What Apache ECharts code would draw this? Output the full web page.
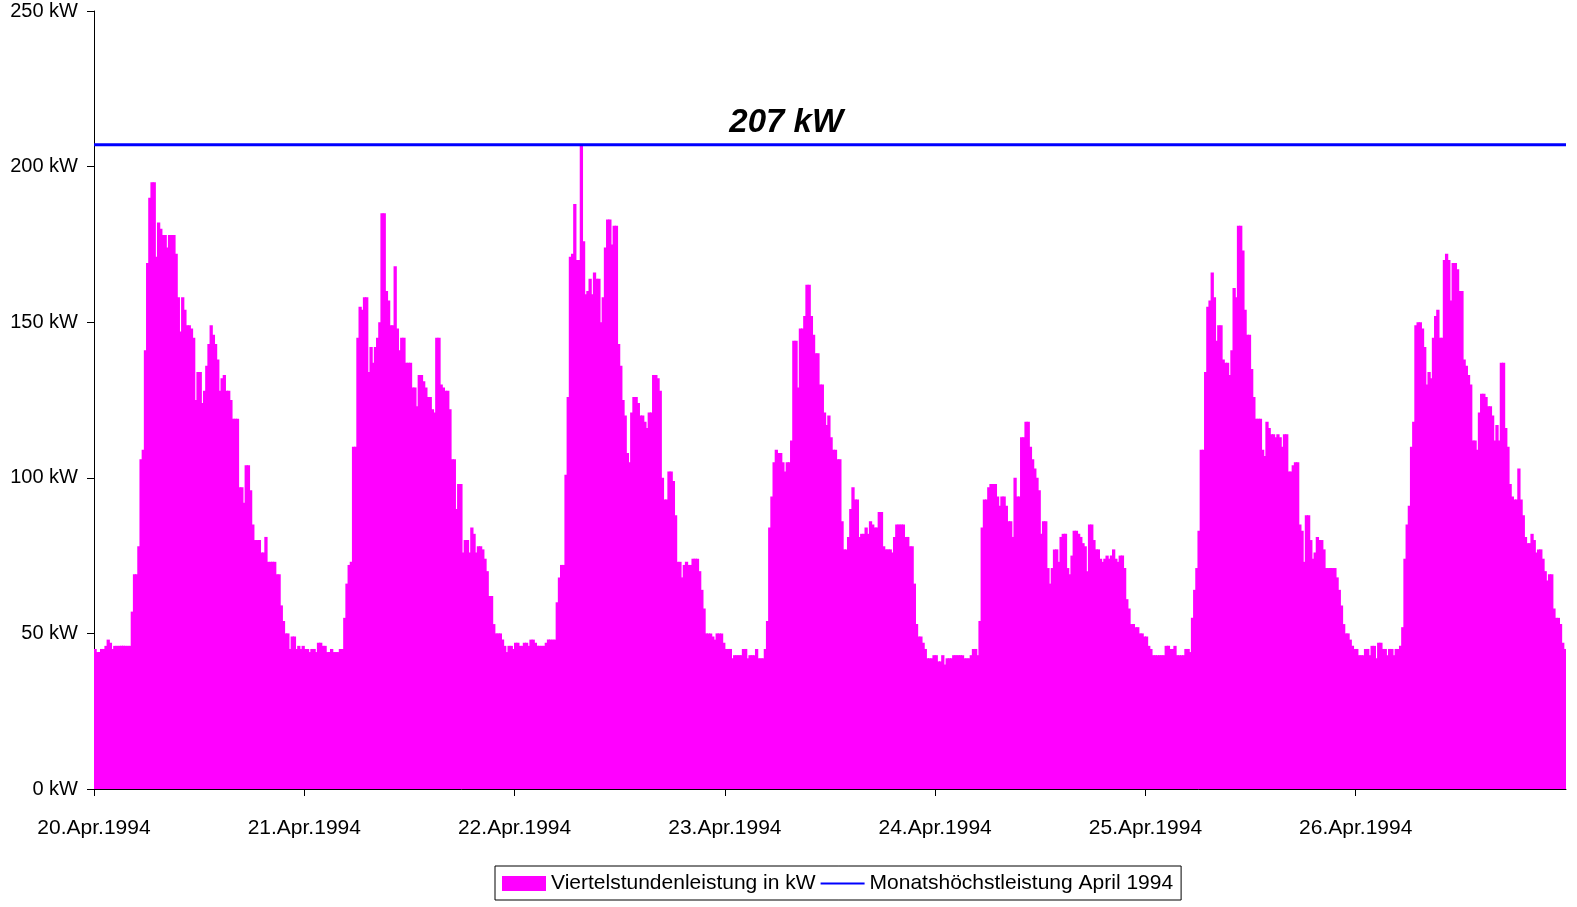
<!DOCTYPE html>
<html>
<head>
<meta charset="utf-8">
<script src="https://cdn.jsdelivr.net/npm/echarts@6/dist/echarts.min.js"></script>
<style>html,body{margin:0;padding:0;background:#fff}#c{width:1577px;height:907px}</style>
</head>
<body>
<div id="c"></div>
<script>
// Day labels (x-axis ticks, one per day boundary)
const dayLabels = ['20.Apr.1994','21.Apr.1994','22.Apr.1994','23.Apr.1994','24.Apr.1994','25.Apr.1994','26.Apr.1994'];
const yTickLabelUnit = ' kW';
const seriesBarName = 'Viertelstundenleistung in kW';
const seriesLineName = 'Monatshöchstleistung April 1994';
const monthMax = 207;
const monthMaxLabel = '207 kW';
const monthMaxLabelAt = 316; // quarter-hour index where the label sits

// Quarter-hour power values (kW), 96 per day
const day20 = [45,44,44,45,45,46,48,47,45,46,46,46,46,46,46,46,
  46,57,69,69,78,106,109,141,169,190,195,195,171,182,180,178,
  178,174,178,178,178,172,158,147,158,154,149,149,148,145,125,134,
  134,124,128,136,143,149,146,143,138,128,132,133,128,128,125,119,
  119,119,97,97,92,104,104,96,85,80,80,80,76,76,81,73,
  73,73,73,69,69,59,54,50,50,45,49,49,45,46,45,46];
const day21 = [45,45,44,45,45,44,47,47,46,46,44,44,45,44,44,44,
  45,45,55,66,72,73,110,110,145,155,154,158,158,134,142,137,
  142,145,150,185,185,160,157,149,149,168,148,141,145,145,137,137,
  137,129,129,123,133,133,131,129,126,126,122,121,145,145,130,129,
  128,128,122,106,106,90,98,98,76,80,80,76,84,82,76,78,
  78,77,74,70,62,62,53,50,50,50,48,46,44,46,46,45];
const day22 = [47,47,46,46,47,47,46,48,48,47,46,46,46,46,47,48,
  48,48,48,60,68,72,72,101,126,171,172,188,170,170,207,176,
  159,160,164,159,166,164,164,150,158,174,183,183,175,181,181,143,
  136,125,120,108,105,121,126,126,124,120,120,118,116,121,121,133,
  133,132,128,100,93,93,102,102,99,88,73,73,68,72,73,72,
  72,74,74,74,70,64,58,50,50,50,49,48,50,50,50,47];
const day23 = [45,45,45,42,43,43,43,43,45,45,42,43,43,43,45,42,
  42,42,45,54,84,94,105,109,108,108,105,102,105,105,112,144,
  144,129,148,148,152,162,162,152,146,140,140,130,130,121,117,120,
  113,109,109,106,106,86,77,77,81,90,97,93,93,81,82,82,
  84,82,86,85,84,84,89,89,78,77,77,77,76,81,85,85,
  85,85,81,81,78,78,66,53,49,49,47,45,42,42,42,43];
const day24 = [43,41,41,43,40,42,42,42,43,43,43,43,43,42,42,42,
  43,45,45,43,54,84,93,93,97,98,98,98,94,91,94,94,
  91,86,86,81,100,94,94,113,113,118,118,110,106,103,100,96,
  82,86,86,71,66,71,77,77,73,81,82,82,71,69,75,83,
  83,82,81,79,78,70,85,85,80,77,77,74,73,74,75,74,
  75,77,74,73,75,75,71,61,58,53,53,52,52,50,50,49];
const day25 = [49,46,45,43,43,43,43,43,43,46,46,45,45,46,43,43,
  43,43,45,45,44,55,64,71,83,109,109,134,155,157,166,158,
  144,149,149,138,137,137,133,141,161,158,181,181,173,154,146,146,
  135,126,119,119,119,109,107,118,116,114,114,113,114,113,110,114,
  114,102,102,104,105,105,85,83,73,88,88,80,74,76,81,80,
  80,77,71,71,71,71,71,68,64,59,53,50,50,48,46,45];
const day26 = [45,43,43,43,45,45,43,46,46,42,47,47,45,45,43,45,
  45,43,45,45,46,52,74,85,91,110,118,149,150,150,148,142,
  130,134,132,145,152,154,145,145,170,172,170,157,169,169,167,160,
  160,138,136,133,130,112,112,109,121,127,127,126,123,123,120,112,
  117,112,137,137,116,110,98,94,93,93,103,93,88,81,79,79,
  82,80,76,77,77,74,70,67,69,69,58,55,55,53,47,45];

const values = [].concat(day20, day21, day22, day23, day24, day25, day26);
const perDay = 96;
const total = values.length;
const slots = values.map((_, i) => i);

const FONT = 'Liberation Sans, Arial, sans-serif';
const chart = echarts.init(document.getElementById('c'));
chart.setOption({
  animation: false,
  backgroundColor: '#fff',
  textStyle: {fontFamily: FONT, color: '#000'},
  grid: {left: 94, right: 11, top: 11, bottom: 118, containLabel: false},
  legend: {
    left: 495, top: 866,
    padding: [7, 8, 6, 7],
    borderColor: '#000', borderWidth: 1,
    itemGap: 4, itemWidth: 44, itemHeight: 15,
    textStyle: {fontFamily: FONT, fontSize: 21, color: '#000'},
    data: [
      {name: seriesBarName, icon: 'rect'},
      {name: seriesLineName, itemStyle: {opacity: 0, color: 'rgba(0,0,0,0)', borderWidth: 0}}
    ]
  },
  xAxis: [{
    type: 'value', min: 0, max: total, interval: perDay,
    axisLine: {show: true, lineStyle: {color: '#000', width: 1}},
    axisTick: {show: true, length: 7, lineStyle: {color: '#000'}},
    splitLine: {show: false},
    axisLabel: {
      margin: 29, fontSize: 21, color: '#000', fontFamily: FONT,
      showMaxLabel: false,
      formatter: v => dayLabels[Math.round(v / perDay)] || ''
    }
  }, {
    type: 'category', data: slots, show: false, boundaryGap: true
  }],
  yAxis: {
    type: 'value', min: 0, max: 250, interval: 50,
    axisLine: {show: true, lineStyle: {color: '#000', width: 1}},
    axisTick: {show: true, length: 7, lineStyle: {color: '#000'}},
    splitLine: {show: false},
    axisLabel: {margin: 16, fontSize: 20, color: '#000', fontFamily: FONT,
      formatter: v => v + yTickLabelUnit}
  },
  series: [{
    name: seriesBarName, type: 'bar', xAxisIndex: 1,
    data: values, barWidth: '150%',
    itemStyle: {color: '#FF00FF'}
  }, {
    name: seriesLineName, type: 'line', xAxisIndex: 0,
    data: [[0, monthMax], [total, monthMax]],
    symbol: 'none', z: 5,
    lineStyle: {color: '#0000FF', width: 3},
    itemStyle: {color: '#0000FF'},
    markPoint: {
      symbol: 'circle', symbolSize: 1,
      itemStyle: {color: 'rgba(0,0,0,0)'},
      label: {show: true, position: 'top', distance: 5,
        formatter: monthMaxLabel, fontSize: 33, fontWeight: 'bold',
        fontStyle: 'italic', color: '#000', fontFamily: FONT},
      data: [{coord: [monthMaxLabelAt, monthMax]}]
    }
  }]
});
</script>
</body>
</html>
